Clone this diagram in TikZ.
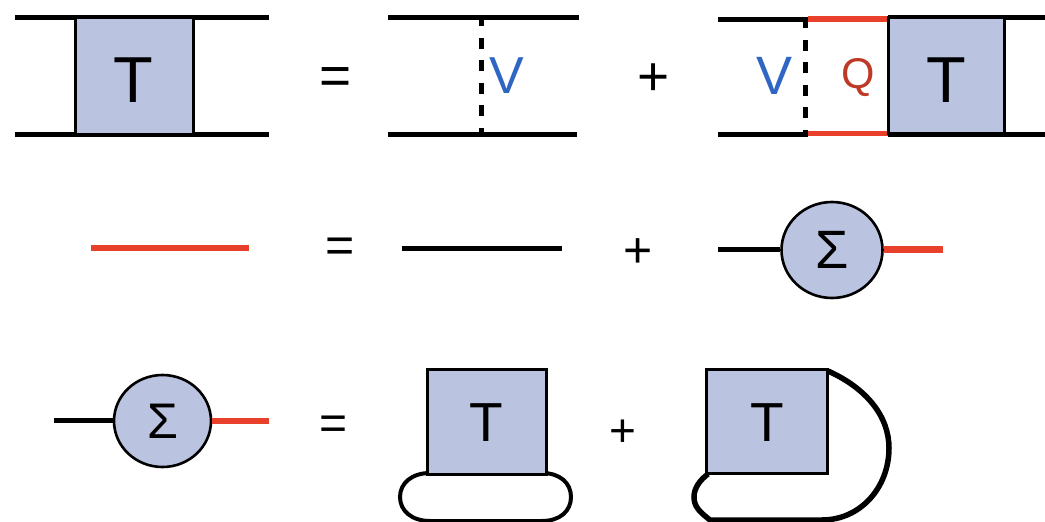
\documentclass[tikz,border=0pt]{standalone}
\usepackage{fontspec}
\usetikzlibrary{shapes.geometric}
\setmainfont{Liberation Sans}
\definecolor{boxfill}{HTML}{BAC3DF}
\definecolor{redline}{HTML}{E8402A}
\definecolor{vblue}{HTML}{2F66C4}
\definecolor{qred}{HTML}{BE3A26}
\tikzset{
  x=1pt,y=-1pt,
  blk/.style={line width=5pt,black},
  redl/.style={line width=5.5pt,redline},
  tbox/.style={draw=black,line width=3pt,fill=boxfill,inner sep=0pt},
  sig/.style={ellipse,draw=black,line width=2.6pt,fill=boxfill,inner sep=0pt},
  txt/.style={inner sep=0pt},
  cut/.style={line width=5pt,black,dash pattern=on 11.25pt off 11.25pt},
  loopl/.style={line width=4pt,black}
}
\newcommand{\fs}[1]{\fontsize{#1}{#1}\selectfont}
\begin{document}
\begin{tikzpicture}
\useasboundingbox (0,0) rectangle (1045,522);
% row 1
\coordinate (a1) at (15,17); \coordinate (a2) at (269,17);
\coordinate (a3) at (15,134.5); \coordinate (a4) at (269,134.5);
\draw[blk] (a1)--(a2); \draw[blk] (a3)--(a4);
\node[tbox,minimum width=118pt,minimum height=117pt] (T1) at (134,75.5) {};
\node[txt,font=\fs{65}] (T1t) at (133,80) {T};
\node[txt,font=\fs{55}] (eq1) at (336,81) {=};
\coordinate (b1) at (388,17); \coordinate (b2) at (579,17);
\coordinate (b3) at (388,134.5); \coordinate (b4) at (577,134.5);
\draw[blk] (b1)--(b2); \draw[blk] (b3)--(b4);
\coordinate (c1) at (481,15); \coordinate (c2) at (481,134);
\draw[cut] (c1)--(c2);
\node[txt,text=vblue,font=\fs{52}] (V1) at (506.5,76) {V};
\node[txt,font=\fs{55}] (pl1) at (654,80) {+};
\coordinate (d1) at (718,19); \coordinate (d2) at (808,19);
\coordinate (d3) at (718,134.5); \coordinate (d4) at (808,134.5);
\draw[blk] (d1)--(d2); \draw[blk] (d3)--(d4);
\coordinate (e1) at (805,17); \coordinate (e2) at (805,134);
\draw[cut] (e1)--(e2);
\node[txt,text=vblue,font=\fs{54}] (V2) at (775,76) {V};
\node[txt,text=qred,font=\fs{43}] (Q) at (858,78) {Q};
\coordinate (f0) at (808,19); \coordinate (f1) at (888,19);
\coordinate (f3) at (808,133.5); \coordinate (f2) at (888,133.5);
\draw[redl] (f0)--(f1); \draw[redl] (f3)--(f2);
\coordinate (g1) at (888,17); \coordinate (g2) at (1045,17);
\coordinate (g3) at (888,134.5); \coordinate (g4) at (1045,134.5);
\draw[blk] (g1)--(g2); \draw[blk] (g3)--(g4);
\node[tbox,minimum width=116pt,minimum height=116pt] (T2) at (946,75.5) {};
\node[txt,font=\fs{65}] (T2t) at (946,80) {T};
% row 2
\coordinate (h1) at (91,248); \coordinate (h2) at (249,248);
\draw[redl,line width=6.5pt] (h1)--(h2);
\node[txt,font=\fs{50}] (eq2) at (340,250) {=};
\coordinate (i1) at (402,248); \coordinate (i2) at (562,248);
\draw[blk] (i1)--(i2);
\node[txt,font=\fs{50}] (pl2) at (638,253) {+};
\node[sig,minimum width=101pt,minimum height=96pt,font=\fs{54}] (S1) at (832,250) {Σ};
\coordinate (j1) at (718,249); \coordinate (j2) at (943,249.5);
\draw[blk] (j1)--(S1.west|-j1); \draw[redl,line width=6.5pt] (S1.east|-j2)--(j2);
% row 3
\node[sig,minimum width=97pt,minimum height=92pt,font=\fs{50}] (S2) at (162.5,421) {Σ};
\coordinate (k1) at (54,420.5); \coordinate (k2) at (269,421);
\draw[blk] (k1)--(S2.west|-k1); \draw[redl,line width=6.5pt] (S2.east|-k2)--(k2);
\node[txt,font=\fs{48}] (eq3) at (334,428) {=};
\draw[loopl] (430,473) .. controls (412,473) and (400,483) .. (400,497) .. controls (400,511) and (412,521) .. (430,521) -- (542,521) .. controls (560,521) and (571,511) .. (571,497) .. controls (571,483) and (560,473) .. (542,473);
\node[tbox,minimum width=119pt,minimum height=105pt] (T3) at (487,421.5) {};
\node[txt,font=\fs{55}] (T3t) at (486,423) {T};
\node[txt,font=\fs{46}] (pl3) at (623,433) {+};
\draw[line width=5.5pt] (828,371) .. controls (866,388) and (889,416) .. (889,448) .. controls (889,488) and (860,520) .. (822,520) -- (710,520) .. controls (700,512) and (694,507) .. (694,497) .. controls (694,488) and (700,480) .. (708,474);
\node[tbox,minimum width=121pt,minimum height=104pt] (T4) at (767,421.5) {};
\node[txt,font=\fs{55}] (T4t) at (767,423) {T};
\end{tikzpicture}
\end{document}
